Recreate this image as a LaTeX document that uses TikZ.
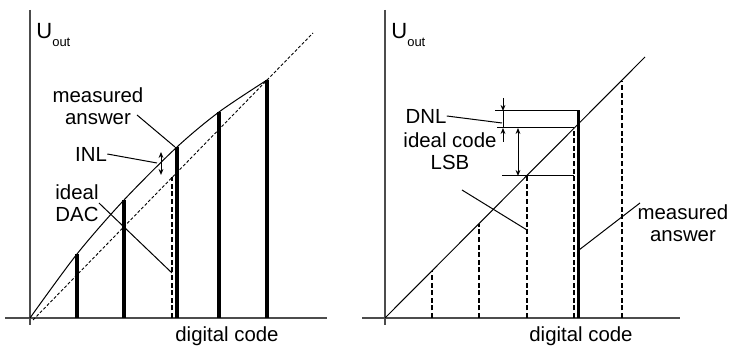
\documentclass[tikz,border=0pt]{standalone}
\usepackage{fontspec}
\setmainfont{Liberation Sans}
\usetikzlibrary{arrows.meta}

\newcommand{\uout}{{\fontsize{11}{12}\selectfont U}\raisebox{-4pt}{\fontsize{6.5}{7}\selectfont out}}

\begin{document}
\begin{tikzpicture}[x=0.5pt,y=-0.5pt,>={Stealth[length=3pt,width=2.4pt]},
  axis/.style={draw=black!70,line width=0.6pt},
  barline/.style={line width=1.8pt},
  codeline/.style={dash pattern=on 2.5pt off 1.3pt,line width=0.9pt},
  idealline/.style={dash pattern=on 1.5pt off 1pt,line width=0.45pt},
  leader/.style={line width=0.5pt},
  lbl/.style={font=\fontsize{10.2}{11.25}\selectfont,inner sep=0pt,align=center}]
  \useasboundingbox (0,0) rectangle (730,346);

  % left: integral non-linearity
  \draw[axis] (30,10) -- (30,325);
  \draw[axis] (5,318) -- (327,318);
  \node[lbl,anchor=base west] (uoutL) at (36,39) {\uout};
  \node[lbl,anchor=base] (codeL) at (227,342) {digital code};
  \draw[idealline] (33,320) -- (313,33);
  \draw[leader] plot[smooth] coordinates {(30,318) (77,254) (124,200) (177,147) (219,112) (267,80)};
  \foreach \x/\y in {77/254,124/200,177/147,219/112,267/80}
    \draw[barline] (\x,318) -- (\x,\y);
  \draw[codeline] (172,318) -- (172,177);
  \node[lbl] (measL) at (98,106) {measured\\answer};
  \node[lbl] (inl) at (91,154) {INL};
  \node[lbl] (dac) at (77,203) {ideal\\DAC};
  \coordinate (measLa) at (137,115);
  \coordinate (measLb) at (175,147);
  \coordinate (inlb) at (157,163);
  \coordinate (dacb) at (172,273);
  \draw[leader] (measLa) -- (measLb);
  \draw[leader] (inl.east) -- (inlb);
  \draw[leader] (dac.east) -- (dacb);
  \draw[leader,<->] (161,152) -- (161,175);

  % right: differential non-linearity
  \draw[axis] (385,10) -- (385,325);
  \draw[axis] (362,318) -- (680,318);
  \node[lbl,anchor=base west] (uoutR) at (391,39) {\uout};
  \node[lbl,anchor=base] (codeR) at (581,342) {digital code};
  \draw[leader] (385,318) -- (645,57);
  \foreach \x/\y in {432/271,479/224,527/176,574/129,622/81}
    \draw[codeline] (\x,318) -- (\x,\y);
  \draw[barline] (578.5,318) -- (578.5,110);
  \draw[leader] (495,111) -- (578,111);
  \draw[leader] (497,128) -- (574,128);
  \draw[leader] (502,176) -- (574,176);
  \draw[leader,->] (503,98) -- (503,111);
  \draw[leader] (503,111) -- (503,128);
  \draw[leader,->] (503,142) -- (503,128);
  \draw[leader,<->] (518,128) -- (518,176);
  \node[lbl] (dnl) at (426,116) {DNL};
  \node[lbl] (lsb) at (450,151) {ideal code\\LSB};
  \node[lbl] (measR) at (683,223) {measured\\answer};
  \coordinate (dnlb) at (502,123);
  \coordinate (lsba) at (462,190);
  \coordinate (lsbb) at (527,230);
  \coordinate (measRa) at (640,203);
  \coordinate (measRb) at (579,250);
  \draw[leader] (dnl.east) -- (dnlb);
  \draw[leader] (lsba) -- (lsbb);
  \draw[leader] (measRa) -- (measRb);
\end{tikzpicture}
\end{document}
